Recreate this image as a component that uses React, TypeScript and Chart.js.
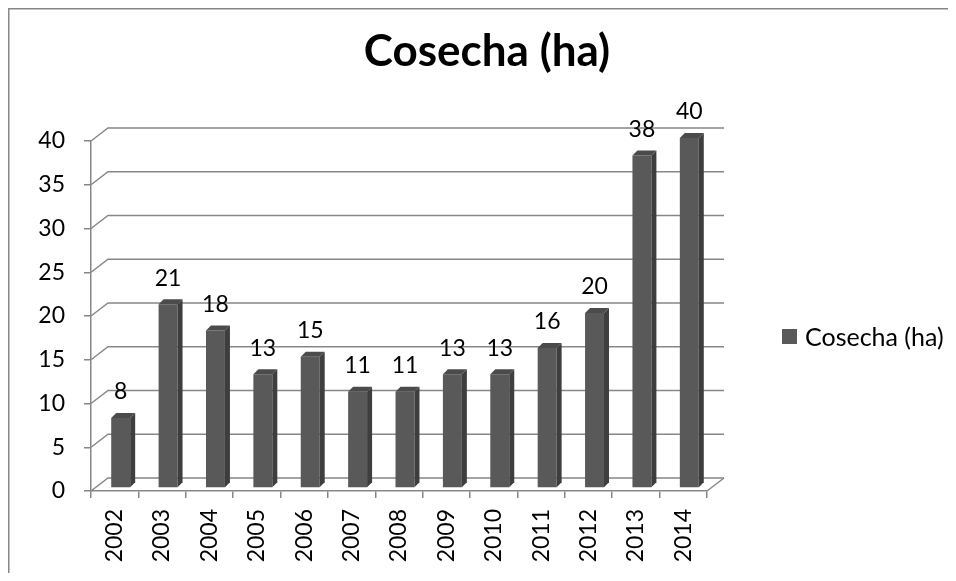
import React, { useEffect, useRef } from "react";
import { Chart, registerables } from "chart.js";

Chart.register(...registerables);

// ---- data ----
const categories = ["2002", "2003", "2004", "2005", "2006", "2007", "2008", "2009", "2010", "2011", "2012", "2013", "2014"];
const cosecha = [8, 21, 18, 13, 15, 11, 11, 13, 13, 16, 20, 38, 40];
const seriesLabel = "Cosecha (ha)";
const titleText = "Cosecha (ha)";
const yMin = 0;
const yMax = 40;
const yStep = 5;

// ---- styles ----
const W = 940;
const H = 565;
const FONT = "Lato";
const TICK_SIZE = 23;
const LEGEND_SIZE = 25;
const TITLE_SIZE = 44;
const GRID = "#878787";
const FRONT = "#595959";
const SIDE = "#3e3e3e";
const TOP = "#4b4b4b";
const WALL_DX = 17;
const WALL_DY = -13;
const BAR_DX = 6;
const BAR_DY = -3;
const BAR_DEPTH = 5;
const LABEL_GAP = 26;
const PLOT_LEFT = 83;
const PLOT_RIGHT = 699;
const PLOT_TOP = 133;
const PLOT_BOTTOM = 483;
const PAD_LEFT = 18;
const LEGEND_BOX = { x: 774, y: 321, size: 15 };
const LEGEND_TEXT_X = 797;

const threeD = {
  id: "threeD",
  beforeDatasetsDraw(chart: any) {
    const { ctx, chartArea, scales } = chart;
    const { left, right, bottom } = chartArea;
    const y = scales.y;
    ctx.save();
    ctx.strokeStyle = GRID;
    ctx.lineWidth = 1.5;
    y.ticks.forEach((t: any) => {
      const py = y.getPixelForValue(t.value);
      ctx.beginPath();
      ctx.moveTo(left, py);
      ctx.lineTo(left + WALL_DX, py + WALL_DY);
      ctx.lineTo(right + WALL_DX, py + WALL_DY);
      ctx.stroke();
    });
    ctx.beginPath();
    ctx.moveTo(right, bottom);
    ctx.lineTo(right + WALL_DX, bottom + WALL_DY);
    ctx.stroke();
    ctx.restore();
    ctx.save();
    ctx.translate(BAR_DX, BAR_DY);
  },
  afterDatasetsDraw(chart: any) {
    const { ctx } = chart;
    const meta = chart.getDatasetMeta(0);
    const values = chart.data.datasets[0].data;
    meta.data.forEach((bar: any, i: number) => {
      const { x, y, base, width } = bar.getProps(["x", "y", "base", "width"], true);
      const l = x - width / 2;
      const r = x + width / 2;
      const d = BAR_DEPTH;
      ctx.fillStyle = SIDE;
      ctx.beginPath();
      ctx.moveTo(r, y);
      ctx.lineTo(r + d, y - d);
      ctx.lineTo(r + d, base - d);
      ctx.lineTo(r, base);
      ctx.closePath();
      ctx.fill();
      ctx.fillStyle = TOP;
      ctx.beginPath();
      ctx.moveTo(l, y);
      ctx.lineTo(l + d, y - d);
      ctx.lineTo(r + d, y - d);
      ctx.lineTo(r, y);
      ctx.closePath();
      ctx.fill();
      ctx.fillStyle = "#000";
      ctx.font = `${TICK_SIZE}px ${FONT}`;
      ctx.textAlign = "center";
      ctx.textBaseline = "middle";
      ctx.fillText(String(values[i]), x, y - LABEL_GAP);
    });
    ctx.restore();
  },
  afterDraw(chart: any) {
    const { ctx } = chart;
    ctx.save();
    // chart frame (left and top edges are visible)
    ctx.strokeStyle = GRID;
    ctx.lineWidth = 1.5;
    ctx.beginPath();
    ctx.moveTo(0.75, H);
    ctx.lineTo(0.75, 0.75);
    ctx.lineTo(W, 0.75);
    ctx.stroke();
    // legend
    const ds = chart.data.datasets[0];
    ctx.fillStyle = ds.backgroundColor;
    ctx.fillRect(LEGEND_BOX.x, LEGEND_BOX.y, LEGEND_BOX.size, LEGEND_BOX.size);
    ctx.fillStyle = "#000";
    ctx.font = `${LEGEND_SIZE}px ${FONT}`;
    ctx.textAlign = "left";
    ctx.textBaseline = "middle";
    ctx.fillText(ds.label, LEGEND_TEXT_X, LEGEND_BOX.y + LEGEND_BOX.size / 2 + 1);
    ctx.restore();
  },
};

export default function App() {
  const ref = useRef<HTMLCanvasElement>(null);
  useEffect(() => {
    const canvas = ref.current;
    if (!canvas) return;
    const titleLine = TITLE_SIZE * 1.2;
    const titleTop = 44 - titleLine / 2;
    const titleBottom = PLOT_TOP - titleTop - titleLine;
    const chart = new Chart(canvas, {
      type: "bar",
      data: {
        labels: categories,
        datasets: [
          {
            label: seriesLabel,
            data: cosecha,
            backgroundColor: FRONT,
            borderWidth: 0,
            barPercentage: 0.4,
            categoryPercentage: 1,
          },
        ],
      },
      options: {
        responsive: false,
        animation: false,
        layout: { padding: { left: PAD_LEFT, right: 0, top: 0, bottom: 0 } },
        plugins: {
          title: {
            display: true,
            text: titleText,
            color: "#000",
            font: { family: FONT, size: TITLE_SIZE, weight: "bold" },
            padding: { top: titleTop, bottom: titleBottom },
          },
          legend: { display: false },
          tooltip: { enabled: false },
        },
        scales: {
          x: {
            grid: { drawOnChartArea: false, drawTicks: true, tickLength: 7, color: GRID, lineWidth: 1.5 },
            border: { display: true, color: GRID, width: 1.5 },
            ticks: {
              color: "#000",
              font: { family: FONT, size: TICK_SIZE },
              minRotation: 90,
              maxRotation: 90,
              padding: 11,
            },
            afterFit: (s: any) => {
              s.height = H - PLOT_BOTTOM;
            },
          },
          y: {
            min: yMin,
            max: yMax,
            grid: { drawOnChartArea: false, drawTicks: true, tickLength: 7, color: GRID, lineWidth: 1.5 },
            border: { display: true, color: GRID, width: 1.5 },
            ticks: {
              stepSize: yStep,
              color: "#000",
              font: { family: FONT, size: TICK_SIZE },
              padding: 19,
            },
            afterFit: (s: any) => {
              s.width = PLOT_LEFT - PAD_LEFT;
            },
          },
          legendSpace: {
            type: "linear",
            position: "right",
            display: true,
            grid: { display: false },
            border: { display: false },
            ticks: { display: false },
            afterFit: (s: any) => {
              s.width = W - PLOT_RIGHT;
            },
          },
        },
      },
      plugins: [threeD],
    });
    return () => chart.destroy();
  }, []);
  return <canvas ref={ref} width={W} height={H} style={{ display: "block" }} />;
}
